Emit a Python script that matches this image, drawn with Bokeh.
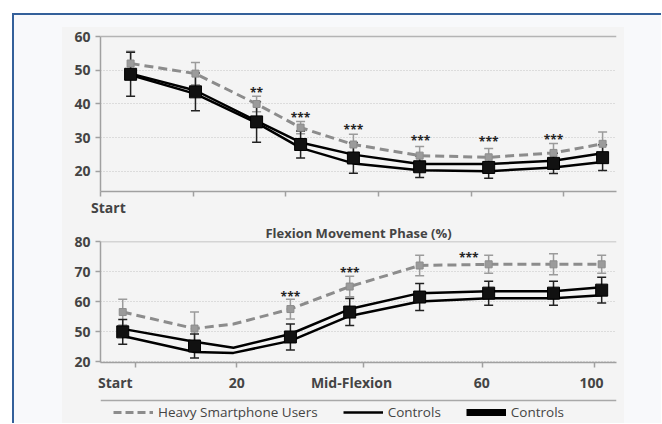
from bokeh.plotting import figure
from bokeh.models import (ColumnDataSource, Whisker, TeeHead, FixedTicker, LinearAxis,
                          Legend, LegendItem, Column, Row, Spacer, Range1d, Grid, Span,
                          Title)
from bokeh.embed import file_html
from bokeh.resources import INLINE
from bokeh.core.properties import value

# ---------------- data ----------------
# x values are "movement phase" units (schematic scale of the original figure)
x_end = 111.4

# top chart
top_x = [6.5, 20.5, 33.7, 43.2, 54.6, 68.9, 83.8, 97.8, 108.4]
top_heavy = [52.0, 49.0, 40.0, 33.0, 28.0, 24.7, 24.2, 25.5, 28.2]
top_heavy_err = [3.6, 3.3, 2.3, 1.8, 3.0, 2.7, 2.6, 2.8, 3.5]
top_ctrl_thin = [48.6, 43.0, 34.4, 27.0, 22.4, 20.4, 20.1, 21.2, 22.8]
top_ctrl_thick = [49.0, 44.0, 35.0, 28.6, 25.0, 22.2, 22.2, 23.2, 25.4]
top_ctrl_mean = [48.8, 43.6, 34.7, 28.0, 24.0, 21.4, 21.2, 22.4, 24.1]
top_ctrl_err = [6.5, 5.6, 6.0, 4.0, 4.5, 3.2, 3.2, 3.0, 3.8]
top_star_x = [33.7, 43.2, 54.6, 69.1, 83.8, 97.8]
top_star_y = [44.3, 36.9, 33.3, 30.1, 29.8, 30.4]
top_star_txt = ["**", "***", "***", "***", "***", "***"]
top_yticks = [20, 30, 40, 50, 60]
top_ymin = 14.07
top_xticks = [0, 20, 40, 60, 80, 100]
top_xlabel_pos = [1.7]
top_xlabels = ["Start"]
mid_title = "Flexion Movement Phase (%)"

# bottom chart (axis is broken: the lowest tick is labelled "20")
bot_x = [4.8, 20.3, 28.7, 41.0, 53.8, 68.9, 83.8, 97.8, 108.2]
bot_heavy = [56.5, 51.0, 52.5, 57.5, 65.0, 72.0, 72.4, 72.4, 72.4]
bot_heavy_err = [4.3, 5.5, None, 3.3, 3.4, 3.4, 3.0, 3.5, 3.0]
bot_ctrl_upper = [50.9, 46.6, 44.6, 49.2, 57.5, 62.8, 63.4, 63.4, 64.8]
bot_ctrl_lower = [48.5, 43.2, 42.9, 46.9, 55.2, 60.0, 61.1, 61.1, 62.1]
bot_ctrl_mean = [49.9, 45.2, None, 48.2, 56.5, 61.5, 62.8, 62.8, 63.8]
bot_ctrl_err = [4.1, 4.0, None, 4.3, 4.5, 4.5, 4.0, 4.0, 4.3]
bot_star_x = [41.0, 53.8, 79.5]
bot_star_y = [62.8, 70.7, 75.7]
bot_star_txt = ["***", "***", "***"]
bot_yticks = [40, 50, 60, 70, 80]
bot_ylabels = ["20", "50", "60", "70", "80"]
bot_ymin = 39.7
bot_xticks = [7.6, 29.4, 56.8, 82.5, 106.7]
bot_xlabel_pos = [3.2, 29.4, 54.2, 82.3, 106.0]
bot_xlabels = ["Start", "20", "Mid-Flexion", "60", "100"]

legend_labels = ["Heavy Smartphone Users", "Controls", "Controls"]

# ---------------- styles ----------------
PANEL = "#f4f4f4"
OUTER = "#f8f9fb"
BLUE = "#34609a"
AXC = "#a0a0a0"
TXT = "#444444"
GRAYL = "#8c8c8c"
GRAYM = "#9b9b9b"
FONT = "Open Sans"


def base_fig(height, y_range, top, bottom):
    p = figure(width=562, height=height, x_range=Range1d(0, x_end), y_range=y_range,
               output_backend="svg", toolbar_location=None, title_location=None,
               x_axis_type=None, y_axis_type=None,
               min_border_left=38, min_border_right=8,
               min_border_top=top, min_border_bottom=bottom)
    p.background_fill_color = PANEL
    p.border_fill_color = PANEL
    p.outline_line_color = None
    return p


def add_axes(p, yticks, ylabels, ymin, xticks, xlabel_pos, xlabels, label_standoff):
    ya = LinearAxis(ticker=FixedTicker(ticks=yticks), bounds=(ymin, yticks[-1]),
                    major_label_overrides={t: l for t, l in zip(yticks, ylabels)})
    ya.axis_line_color = AXC
    ya.axis_line_width = 1.5
    ya.major_tick_line_color = AXC
    ya.major_tick_line_width = 1.5
    ya.major_tick_out = 5
    ya.major_tick_in = 0
    ya.minor_tick_line_color = None
    ya.major_label_standoff = 5
    ya.major_label_text_font = FONT
    ya.major_label_text_font_style = "bold"
    ya.major_label_text_font_size = "14px"
    ya.major_label_text_color = TXT
    p.add_layout(ya, "left")

    g = Grid(dimension=1, ticker=FixedTicker(ticks=yticks[:-1]))
    g.grid_line_color = "#c4c4c4"
    g.grid_line_dash = "1 2"
    g.grid_line_width = 1
    p.add_layout(g)
    p.add_layout(Span(location=yticks[-1], dimension="width", line_color="#b4b4b4",
                      line_width=1.5))

    # labels on major ticks (marks hidden), tick marks drawn as minor ticks
    xa = LinearAxis(ticker=FixedTicker(ticks=xlabel_pos, minor_ticks=xticks),
                    major_label_overrides={t: l for t, l in zip(xlabel_pos, xlabels)})
    xa.axis_line_color = AXC
    xa.axis_line_width = 1.5
    xa.major_tick_line_color = None
    xa.major_tick_out = 0
    xa.major_tick_in = 0
    xa.minor_tick_line_color = AXC
    xa.minor_tick_line_width = 1.5
    xa.minor_tick_out = 5
    xa.minor_tick_in = 0
    xa.major_label_standoff = label_standoff
    xa.major_label_text_font = FONT
    xa.major_label_text_font_style = "bold"
    xa.major_label_text_font_size = "14px"
    xa.major_label_text_color = TXT
    p.add_layout(xa, "below")


def whisker(p, xs, ys, errs, color):
    idx = [i for i, e in enumerate(errs) if e is not None]
    src = ColumnDataSource(dict(x=[xs[i] for i in idx],
                                up=[ys[i] + errs[i] for i in idx],
                                lo=[ys[i] - errs[i] for i in idx]))
    w = Whisker(base="x", upper="up", lower="lo", source=src, dimension="height",
                line_color=color, line_width=1.5,
                upper_head=TeeHead(size=9, line_color=color, line_width=1.5),
                lower_head=TeeHead(size=9, line_color=color, line_width=1.5))
    p.add_layout(w)


def draw_chart(p, xs, heavy, heavy_err, c_a, c_b, c_mean, c_err, sx, sy, stxt):
    # heavy smartphone users
    whisker(p, xs, heavy, heavy_err, GRAYM)
    p.line(xs, heavy, line_color=GRAYL, line_width=3, line_dash="9 5")
    hi = [i for i, e in enumerate(heavy_err) if e is not None]
    p.scatter([xs[i] for i in hi], [heavy[i] for i in hi], marker="square", size=7,
              fill_color=GRAYM, line_color=GRAYL)
    # controls
    whisker(p, xs, c_mean, c_err, "#222222")
    p.line(xs, c_a, line_color="black", line_width=2.5)
    p.line(xs, c_b, line_color="black", line_width=2.5)
    ci = [i for i, e in enumerate(c_mean) if e is not None]
    p.scatter([xs[i] for i in ci], [c_mean[i] for i in ci], marker="square", size=12,
              fill_color="#111111", line_color="black")
    # significance stars
    p.text(sx, sy, text=stxt, text_align="center", text_baseline="middle",
           text_font=value(FONT), text_font_style="bold", text_font_size="12px",
           text_color="#222222", y_offset=3)


# ---------------- top chart ----------------
# frame spans a little above the top tick so that its label has room
p1 = base_fig(194, Range1d(top_ymin, top_yticks[-1] + 9 / 3.375), 0, 30)
add_axes(p1, top_yticks, [str(t) for t in top_yticks], top_ymin, top_xticks,
         top_xlabel_pos, top_xlabels, 1)
draw_chart(p1, top_x, top_heavy, top_heavy_err, top_ctrl_thin, top_ctrl_thick,
           top_ctrl_mean, top_ctrl_err, top_star_x, top_star_y, top_star_txt)

# ---------------- bottom chart ----------------
p2 = base_fig(173, Range1d(bot_ymin, bot_yticks[-1]), 20, 32)
t_mid = Title(text=mid_title, align="center", text_font=FONT, text_font_style="bold",
              text_font_size="13px", text_color=TXT, standoff=0)
p2.add_layout(t_mid, "above")
add_axes(p2, bot_yticks, bot_ylabels, bot_ymin, bot_xticks, bot_xlabel_pos, bot_xlabels, 5)
draw_chart(p2, bot_x, bot_heavy, bot_heavy_err, bot_ctrl_upper, bot_ctrl_lower,
           bot_ctrl_mean, bot_ctrl_err, bot_star_x, bot_star_y, bot_star_txt)

# ---------------- legend strip ----------------
p3 = base_fig(29, Range1d(0, 29), 0, 0)
p3.add_layout(Span(location=23, dimension="width", line_color="#a8a8a8", line_width=1.5))
nan = float("nan")
r1 = p3.line([0, 1], [nan, nan], line_color=GRAYL, line_width=3, line_dash="8 4")
r2 = p3.line([0, 1], [nan, nan], line_color="black", line_width=2.5)
r3 = p3.line([0, 1], [nan, nan], line_color="black", line_width=7)
leg = Legend(items=[LegendItem(label=legend_labels[0], renderers=[r1]),
                    LegendItem(label=legend_labels[1], renderers=[r2]),
                    LegendItem(label=legend_labels[2], renderers=[r3])],
             orientation="horizontal", location=(13, 2))
leg.border_line_color = None
leg.background_fill_alpha = 0
leg.glyph_width = 40
leg.glyph_height = 14
leg.label_standoff = 5
leg.spacing = 25
leg.padding = 0
leg.margin = 0
leg.label_text_font = FONT
leg.label_text_font_size = "13.5px"
leg.label_text_color = TXT
leg.label_height = 14
p3.add_layout(leg)

panel = Column(children=[p1, p2, p3], spacing=0, styles={"background-color": PANEL})
inner = Row(children=[Spacer(width=48, height=10), panel, Spacer(width=37, height=10)],
            spacing=0)
root = Column(children=[Spacer(width=10, height=12), inner], spacing=0,
              margin=(13, 0, 0, 12),
              styles={"background-color": OUTER,
                      "border-left": "2px solid " + BLUE,
                      "border-top": "2px solid " + BLUE})

open("out.html", "w").write(file_html(root, INLINE))
